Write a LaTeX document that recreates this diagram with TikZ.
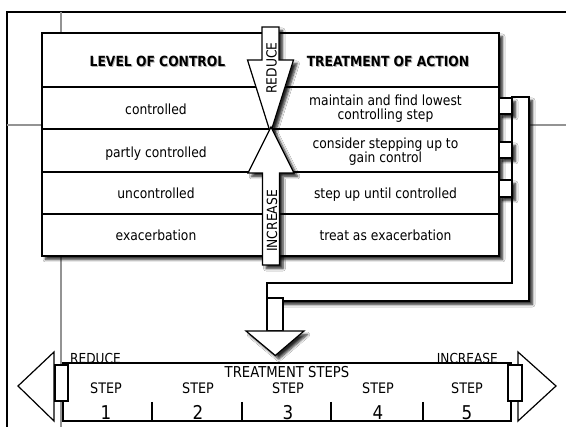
\documentclass[tikz,border=0pt]{standalone}
\usepackage{fontspec}
\setmainfont{DejaVu Sans}[FakeStretch=0.88]
\usetikzlibrary{shadows.blur}
\begin{document}
\begin{tikzpicture}[x=1pt,y=-1pt,
  ln/.style={line width=1.2pt,line join=miter},
  rowline/.style={line width=1.8pt},
  shad/.style={blur shadow={shadow xshift=3.5pt,shadow yshift=-3.5pt,shadow blur steps=6,shadow blur radius=2.5pt,shadow opacity=85}},
  guide/.style={draw=gray!85,line width=1.1pt},
  frameline/.style={line width=2pt},
  txt/.style={font=\fontsize{14}{14.5}\selectfont,align=center,inner sep=0pt,anchor=base},
  hdr/.style={font=\fontsize{14}{15}\selectfont\bfseries,inner sep=0pt,anchor=base},
  hdrshadow/.style={hdr,text=gray!60},
  arrlabel/.style={font=\fontsize{14}{15}\selectfont,inner sep=0pt,rotate=90},
  steplabel/.style={font=\fontsize{14.5}{15}\selectfont,inner sep=0pt,anchor=base},
  numlabel/.style={font=\fontsize{19}{20}\selectfont,inner sep=0pt,anchor=base},
  endlabel/.style={font=\fontsize{13.8}{15}\selectfont,inner sep=0pt},
  whitebox/.style={ln,fill=white}
]
\useasboundingbox (0,0) rectangle (566,427);
\fill[white] (0,0) rectangle (566,427);

% frame and guide lines
\coordinate (fbl) at (7,427);
\coordinate (ftl) at (7,12);
\coordinate (ftr) at (566,12);
\draw[frameline] (fbl) -- (ftl) -- (ftr);
\draw[guide] (61,12) -- (61,33);
\draw[guide] (7,125) -- (42,125);
\draw[guide] (529,125) -- (566,125);
\draw[guide] (61,256) -- (61,427);

% connector on the right
\draw[whitebox,shad] (512,97) -- (529,97) -- (529,301) -- (267,301) -- (267,283) -- (512,283) -- cycle;

% table
\draw[whitebox,shad] (42,33) rectangle (499,256);
\foreach \yy in {87,129,172,214} \draw[rowline] (42,\yy) -- (499,\yy);

% tabs
\draw[whitebox,shad] (499,98) rectangle (512,114);
\draw[whitebox,shad] (499,142) rectangle (512,158);
\draw[whitebox,shad] (499,180) rectangle (512,197);

% reduce arrow
\draw[whitebox,shad] (262,27) -- (279,27) -- (279,60) -- (293.5,60) -- (270.5,133) -- (247.5,60) -- (262,60) -- cycle;
\node[arrlabel] (reduce) at (271.5,68) {REDUCE};
% increase arrow
\draw[whitebox,shad] (262.5,265) -- (262.5,173) -- (248,173) -- (271,127) -- (294,173) -- (279.5,173) -- (279.5,265) -- cycle;
\node[arrlabel] (increase) at (272,221) {INCREASE};

% headers
\node[hdrshadow] at (158.5,67.7) {LEVEL OF CONTROL};
\node[hdr] (loc) at (157.5,66.7) {LEVEL OF CONTROL};
\node[hdrshadow] at (389,67.7) {TREATMENT OF ACTION};
\node[hdr] (toa) at (388,66.7) {TREATMENT OF ACTION};

% left column
\node[txt] (l1) at (156,114.3) {controlled};
\node[txt] (l2) at (156,157.5) {partly controlled};
\node[txt] (l3) at (156,199) {uncontrolled};
\node[txt] (l4) at (156,241) {exacerbation};
% right column (base = last line)
\node[txt] (r1) at (385.5,120) {maintain and find lowest\\controlling step};
\node[txt] (r2) at (385.5,162.8) {consider stepping up to\\gain control};
\node[txt] (r3) at (385.5,199) {step up until controlled};
\node[txt] (r4) at (385.5,241) {treat as exacerbation};

% down arrow
\draw[whitebox] (267,298) rectangle (283,331);
\draw[whitebox,shad] (246,331) -- (304,331) -- (275.3,355.5) -- cycle;

% treatment steps bar
\draw[whitebox] (54,352) -- (18,386) -- (54,421) -- cycle;
\draw[whitebox] (518,352) -- (556,386) -- (518,421) -- cycle;
\draw[ln,fill=white] (63,363) rectangle (511,421);
\draw[ln,fill=white] (55,365) rectangle (68,401);
\draw[ln,fill=white] (508,365) rectangle (522,401);
\foreach \xx in {152,242,331,423} \draw[line width=1.5pt] (\xx,402) -- (\xx,421);
\draw[line width=1.8pt] (63,401) -- (63,421);
\draw[line width=1.8pt] (511,401) -- (511,421);

\node[endlabel,anchor=base west] (red) at (70,363.5) {REDUCE};
\node[endlabel,anchor=base east] (inc) at (498,363.5) {INCREASE};
\node[font=\fontsize{15}{16}\selectfont,inner sep=0pt,anchor=base] (ts) at (287,378) {TREATMENT STEPS};
\foreach \xx/\n in {106/1,198/2,288/3,378/4,467/5}{
  \node[steplabel] (s\n) at (\xx,394) {STEP};
  \node[numlabel] (n\n) at (\xx,419.5) {\n};
}
\end{tikzpicture}
\end{document}
